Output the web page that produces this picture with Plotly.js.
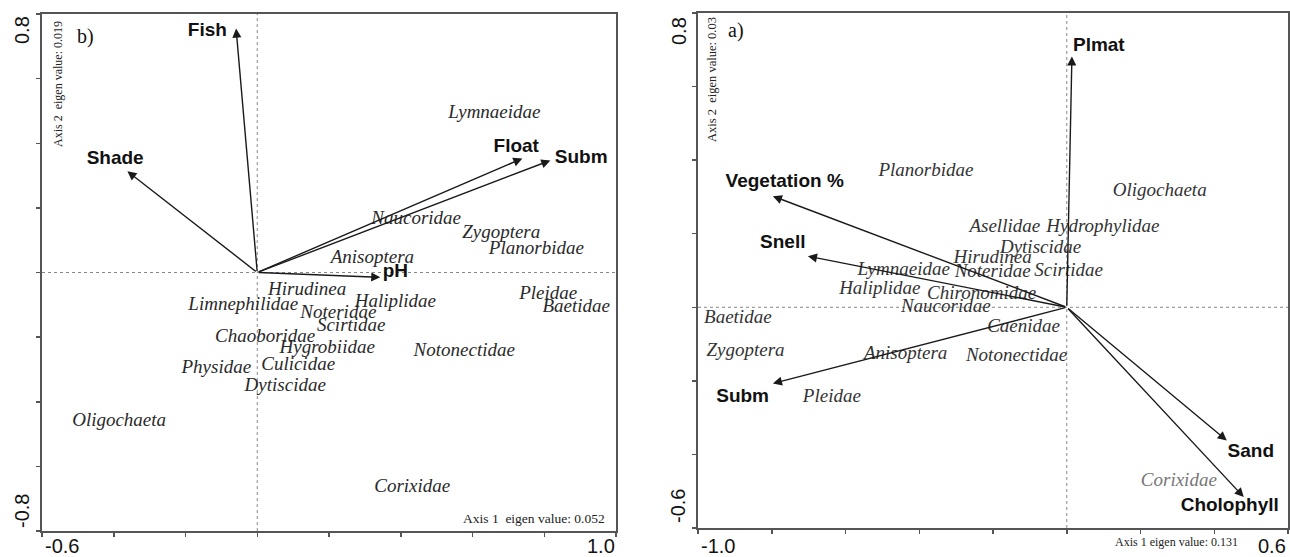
<!DOCTYPE html>
<html>
<head>
<meta charset="utf-8">
<script src="https://cdn.plot.ly/plotly-3.0.1.min.js"></script>
<style>html,body{margin:0;padding:0;background:#fff;}#chart{width:1290px;height:557px;}</style>
</head>
<body>
<div id="chart"></div>
<script>
// ---------- Panel b) (left) ----------
const bEnvNames = ["Fish", "Shade", "Float", "Subm", "pH"];
const bEnvX = [-0.059, -0.362, 0.739, 0.817, 0.343];
const bEnvY = [0.755, 0.313, 0.353, 0.347, -0.015];
const bEnvLabelX = [-0.139, -0.396, 0.722, 0.903, 0.385];
const bEnvLabelY = [0.746, 0.350, 0.387, 0.353, 0.000];

const bTaxa = ["Lymnaeidae", "Naucoridae", "Zygoptera", "Planorbidae", "Anisoptera",
  "Hirudinea", "Limnephilidae", "Haliplidae", "Noteridae", "Scirtidae", "Chaoboridae",
  "Hygrobiidae", "Culicidae", "Physidae", "Dytiscidae", "Oligochaeta", "Notonectidae",
  "Pleidae", "Baetidae", "Corixidae"];
const bTaxaX = [0.661, 0.443, 0.680, 0.778, 0.321, 0.139, -0.039, 0.385, 0.226, 0.262, 0.022,
  0.195, 0.114, -0.114, 0.078, -0.385, 0.577, 0.811, 0.889, 0.432];
const bTaxaY = [0.492, 0.164, 0.121, 0.071, 0.043, -0.056, -0.102, -0.093, -0.127, -0.167, -0.201,
  -0.235, -0.288, -0.297, -0.353, -0.461, -0.245, -0.068, -0.108, -0.665];

const bXRange = [-0.6, 1.0];
const bYRange = [-0.8, 0.8];
const bXTickLabels = ["-0.6", "1.0"];
const bYTickLabels = ["0.8", "-0.8"];
const bAxis1 = "Axis 1  eigen value: 0.052";
const bAxis2 = "Axis 2  eigen value: 0.019";

// ---------- Panel a) (right) ----------
const aEnvNames = ["Plmat", "Vegetation %", "Snell", "Subm", "Sand", "Cholophyll"];
const aEnvX = [0.014, -0.797, -0.702, -0.797, 0.434, 0.480];
const aEnvY = [0.682, 0.302, 0.139, -0.207, -0.362, -0.516];
const aEnvLabelX = [0.087, -0.765, -0.770, -0.879, 0.499, 0.442];
const aEnvLabelY = [0.709, 0.340, 0.174, -0.245, -0.394, -0.541];

const aTaxa = ["Planorbidae", "Oligochaeta", "Asellidae", "Hydrophylidae", "Dytiscidae",
  "Hirudinea", "Lymnaeidae", "Noteridae", "Scirtidae", "Haliplidae", "Chironomidae",
  "Naucoridae", "Caenidae", "Anisoptera", "Notonectidae", "Baetidae", "Zygoptera", "Pleidae",
  "Corixidae"];
const aTaxaX = [-0.382, 0.252, -0.168, 0.098, -0.071, -0.201, -0.442, -0.201, 0.005, -0.507,
  -0.231, -0.328, -0.117, -0.437, -0.136, -0.892, -0.871, -0.637, 0.304];
const aTaxaY = [0.370, 0.315, 0.217, 0.217, 0.160, 0.133, 0.101, 0.095, 0.098, 0.049,
  0.035, 0.000, -0.054, -0.128, -0.133, -0.030, -0.120, -0.245, -0.473];

const aXRange = [-1.0, 0.6];
const aYRange = [-0.6, 0.8];
const aXTickLabels = ["-1.0", "0.6"];
const aYTickLabels = ["0.8", "-0.6"];
const aAxis1 = "Axis 1 eigen value: 0.131";
const aAxis2 = "Axis 2  eigen value: 0.03";

// ---------- Build ----------
const W = 1290, H = 557;
const serif = "Liberation Serif, Times New Roman, serif";
const sans = "Liberation Sans, Arial, sans-serif";
const px = v => v / W;
const py = v => 1 - v / H;

const traces = [
  {x: bTaxaX, y: bTaxaY, text: bTaxa, mode: "text", type: "scatter", xaxis: "x", yaxis: "y",
   textposition: "middle center", hoverinfo: "none",
   textfont: {family: serif, size: 19, style: "italic", color: "#2a2a2a"}},
  {x: bEnvLabelX, y: bEnvLabelY, text: bEnvNames, mode: "text", type: "scatter", xaxis: "x", yaxis: "y",
   textposition: "middle center", hoverinfo: "none",
   textfont: {family: sans, size: 19, weight: "bold", color: "#111"}},
  {x: aTaxaX, y: aTaxaY, text: aTaxa, mode: "text", type: "scatter", xaxis: "x2", yaxis: "y2",
   textposition: "middle center", hoverinfo: "none",
   textfont: {family: serif, size: 19, style: "italic",
     color: aTaxa.map(t => t === "Corixidae" ? "#777" : "#333")}},
  {x: aEnvLabelX, y: aEnvLabelY, text: aEnvNames, mode: "text", type: "scatter", xaxis: "x2", yaxis: "y2",
   textposition: "middle center", hoverinfo: "none",
   textfont: {family: sans, size: 19, weight: "bold", color: "#111"}}
];

const annotations = [];
function arrows(xs, ys, xr, yr) {
  xs.forEach((x, i) => {
    annotations.push({x: x, y: ys[i], ax: 0, ay: 0, xref: xr, yref: yr, axref: xr, ayref: yr,
      text: "", showarrow: true, arrowhead: 2, arrowsize: 1.3, arrowwidth: 1.4, arrowcolor: "#1a1a1a"});
  });
}
arrows(bEnvX, bEnvY, "x", "y");
arrows(aEnvX, aEnvY, "x2", "y2");

function txt(t, x, y, opts) {
  annotations.push(Object.assign({text: t, x: px(x), y: py(y), xref: "paper", yref: "paper",
    showarrow: false, xanchor: "center", yanchor: "middle", borderpad: 0}, opts));
}
const tickFont = {family: sans, size: 20, color: "#111"};
// left panel tick labels
txt(bYTickLabels[0], 22, 30, {textangle: -90, font: tickFont});
txt(bYTickLabels[1], 22, 511, {textangle: -90, font: tickFont});
txt(bXTickLabels[0], 62, 546, {font: tickFont});
txt(bXTickLabels[1], 601, 546, {font: tickFont});
// right panel tick labels
txt(aYTickLabels[0], 679, 31, {textangle: -90, font: tickFont});
txt(aYTickLabels[1], 678, 506, {textangle: -90, font: tickFont});
txt(aXTickLabels[0], 718, 546, {font: tickFont});
txt(aXTickLabels[1], 1272, 546, {font: tickFont});
// panel letters & eigen texts
txt("b)", 85, 36, {font: {family: serif, size: 20, color: "#111"}});
txt("a)", 736, 31, {font: {family: serif, size: 20, color: "#111"}});
txt(bAxis2, 58, 84, {textangle: -90, font: {family: serif, size: 12, color: "#222"}});
txt(bAxis1, 534, 518, {font: {family: serif, size: 13.5, color: "#222"}});
txt(aAxis2, 712, 80, {textangle: -90, font: {family: serif, size: 12.5, color: "#222"}});
txt(aAxis1, 1176, 542, {font: {family: serif, size: 12, color: "#222"}});

const shapes = [];
function zeroLines(xr, yr) {
  shapes.push({type: "line", xref: xr, yref: yr + " domain", x0: 0, x1: 0, y0: 0, y1: 1,
    line: {color: "#888", width: 1, dash: "dot"}, layer: "below"});
  shapes.push({type: "line", xref: xr + " domain", yref: yr, x0: 0, x1: 1, y0: 0, y1: 0,
    line: {color: "#888", width: 1, dash: "dot"}, layer: "below"});
}
zeroLines("x", "y");
zeroLines("x2", "y2");

function axis(range, domain, anchor) {
  return {range: range, domain: domain, anchor: anchor, showline: true, mirror: true,
    linecolor: "#555", linewidth: 2, ticks: "outside", ticklen: 4, tickwidth: 1.5,
    tickcolor: "#555", dtick: 0.2, tick0: 0, showticklabels: false, showgrid: false,
    zeroline: false, fixedrange: true};
}

const layout = {
  width: W, height: H, margin: {l: 0, r: 0, t: 0, b: 0},
  paper_bgcolor: "#fff", plot_bgcolor: "#fff", showlegend: false,
  xaxis: axis(bXRange, [42 / W, 616 / W], "y"),
  yaxis: axis(bYRange, [(H - 531) / H, (H - 14) / H], "x"),
  xaxis2: axis(aXRange, [698 / W, 1288 / W], "y2"),
  yaxis2: axis(aYRange, [(H - 528) / H, (H - 13) / H], "x2"),
  annotations: annotations,
  shapes: shapes
};

Plotly.newPlot("chart", traces, layout, {staticPlot: true, displayModeBar: false});
</script>
</body>
</html>
